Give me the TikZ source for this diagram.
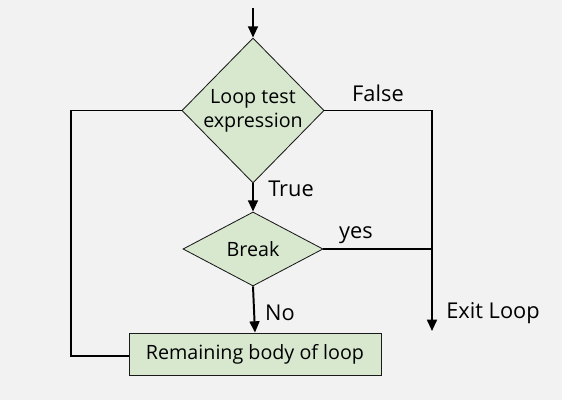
\documentclass[tikz,border=0pt]{standalone}
\usepackage{fontspec}
\setmainfont{Open Sans}
\usepackage{xcolor}
\usetikzlibrary{shapes.geometric, arrows.meta, positioning}

\definecolor{bggray}{HTML}{F2F2F2}
\definecolor{boxgreen}{HTML}{D7E8CF}
\definecolor{edgegray}{HTML}{1A1A1A}

\tikzset{
	decision/.style={diamond, draw=edgegray, line width=0.6pt, fill=boxgreen,
		inner sep=0pt, align=center},
	stepbox/.style={rectangle, draw=edgegray, line width=0.6pt, fill=boxgreen,
		inner sep=0pt},
	flow/.style={line width=1.4pt, black},
	lbl/.style={inner sep=0pt, font=\fontsize{15.5}{18}\selectfont}
}

\begin{document}
\begin{tikzpicture}[x=0.025cm, y=-0.025cm, >={Triangle[length=8pt, width=7pt]},
		font=\fontsize{14}{17}\selectfont]
	% page background
	\fill[bggray] (0,0) rectangle (562,400);
	% the two tests and the loop body
	\node[decision, minimum width=3.5cm, minimum height=3.625cm] (test) at (253,110.5)
	{Loop test\\expression};
	\node[decision, minimum width=3.5cm, minimum height=1.85cm] (brk) at (253,249)
	{Break};
	\node[stepbox, minimum width=6.3cm, minimum height=1.05cm] (body) at (255,354)
	{Remaining body of loop};
	% free ends
	\coordinate (start) at (253,8);
	\coordinate (turn) at (432,110.5);
	\coordinate (join) at (432,249);
	\coordinate (exit) at (432,331);
	\coordinate (back) at (71,356);
	% connectors
	\draw[flow, ->] (start) -- (test.north);
	\draw[flow, ->] (test.south) -- (brk.north);
	\draw[flow, ->] (brk.south) -- (body.north);
	\draw[flow] (test.east) -- (turn);
	\draw[flow, ->] (turn) -- (exit);
	\draw[flow] (brk.east) -- (join);
	\draw[flow] (body.west |- back) -- (back) |- (test.west);
	% labels
	\node[lbl] (lblfalse) at (378,93) {False};
	\node[lbl] (lbltrue) at (291,189) {True};
	\node[lbl] (lblyes) at (356,235) {yes};
	\node[lbl] (lblno) at (280,313) {No};
	\node[lbl] (lblexit) at (493,313) {Exit Loop};
\end{tikzpicture}
\end{document}
